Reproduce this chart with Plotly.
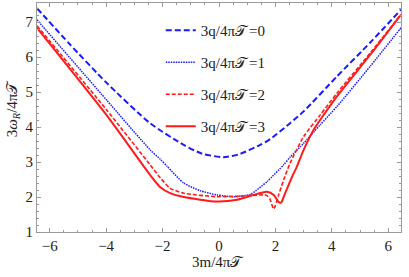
import plotly.graph_objects as go

# q = 0 (blue dashed)
x_q0 = [-6.45, -5.3, -4.0, -2.44, -1.25, -0.6, 0.16, 0.7, 1.46, 1.82, 2.53, 3.0, 4.18, 5.36, 6.45]
y_q0 = [7.40, 6.38, 5.28, 4.11, 3.49, 3.24, 3.14, 3.22, 3.49, 3.66, 4.12, 4.45, 5.45, 6.42, 7.36]

# q = 1 (blue dotted)
x_q1 = [-6.45, -3.99, -2.44, -2.08, -1.84, -1.25, -0.66, -0.07, 0.52, 1.11, 1.70, 2.29, 2.53, 3.0, 3.59, 4.18, 5.36, 6.45]
y_q1 = [7.07, 4.78, 3.35, 3.08, 2.88, 2.40, 2.18, 2.06, 2.01, 2.08, 2.44, 2.92, 3.15, 3.54, 4.07, 4.59, 5.74, 6.84]

# q = 2 (red dashed)
x_q2 = [-6.45, -3.99, -2.44, -2.08, -1.73, -1.25, -0.07, 0.88, 1.58, 1.70, 1.80, 1.94, 2.11, 2.29, 2.52, 3.0, 3.59, 4.18, 5.36, 6.45]
y_q2 = [6.90, 4.50, 2.92, 2.55, 2.25, 2.11, 2.01, 2.03, 2.06, 2.04, 1.95, 1.66, 2.05, 2.49, 2.97, 3.73, 4.35, 4.97, 6.12, 7.22]

# q = 3 (red solid)
x_q3 = [-6.45, -3.99, -2.44, -2.08, -1.73, -1.25, -0.07, 0.64, 1.35, 1.70, 1.94, 2.11, 2.20, 2.29, 2.47, 2.60, 2.76, 3.0, 3.35, 3.59, 4.18, 5.36, 6.45]
y_q3 = [6.84, 4.35, 2.63, 2.28, 2.11, 2.00, 1.87, 1.92, 2.09, 2.15, 2.06, 1.86, 1.84, 2.00, 2.35, 2.60, 2.87, 3.35, 3.92, 4.21, 4.88, 6.07, 7.22]

names = ["3q/4π𝒯\u2009=0", "3q/4π𝒯\u2009=1", "3q/4π𝒯\u2009=2", "3q/4π𝒯\u2009=3"]

x_ticks = [-6, -4, -2, 0, 2, 4, 6]
y_ticks = [1, 2, 3, 4, 5, 6, 7]

FONT = "Liberation Serif, Times New Roman, serif"
TXT = "#222"
GRAY = "#9a9a9a"

fig = go.Figure()
series = [
    (x_q0, y_q0, names[0], "#1a1aff", "6px,3px", 2.0),
    (x_q1, y_q1, names[1], "#1a1aff", "1.5px,1px", 1.5),
    (x_q2, y_q2, names[2], "#ff1a1a", "4px,2px", 1.6),
    (x_q3, y_q3, names[3], "#ff1a1a", "solid", 2.0),
]
for i, (xs, ys, nm, col, dash, w) in enumerate(series):
    fig.add_trace(go.Scatter(
        x=xs, y=ys, mode="lines", name=nm, legendgroup=f"g{i}",
        line=dict(color=col, dash=dash, width=w, shape="spline", smoothing=0.6),
    ))

axis_common = dict(
    showline=True, linecolor=GRAY, linewidth=1, mirror="allticks",
    ticks="inside", ticklen=4, tickcolor=GRAY, tickwidth=1,
    showgrid=False, zeroline=False, automargin=False,
    tickfont=dict(family=FONT, size=15, color=TXT),
)

fig.update_xaxes(
    range=[-6.45, 6.45], tickvals=x_ticks,
    ticktext=[str(v).replace("-", "−") for v in x_ticks],
    minor=dict(dtick=0.5, tick0=0, ticks="inside", ticklen=2, tickcolor=GRAY),
    **axis_common,
)
fig.update_yaxes(
    range=[1, 7.55], tickvals=y_ticks,
    minor=dict(dtick=0.2, tick0=0, ticks="inside", ticklen=2, tickcolor=GRAY),
    **axis_common,
)

fig.add_annotation(
    text="3m/4π𝒯", xref="paper", yref="paper", x=0.497, y=-0.131,
    xanchor="center", yanchor="middle", showarrow=False,
    font=dict(family=FONT, size=15, color=TXT),
)
fig.add_annotation(
    text="3<i>ω<sub>R</sub></i>/4π𝒯", xref="paper", yref="paper", x=-0.066, y=0.54,
    xanchor="center", yanchor="middle", showarrow=False, textangle=-90,
    font=dict(family=FONT, size=15, color=TXT),
)

fig.update_layout(
    width=409, height=277,
    margin=dict(l=37, r=8, t=3, b=45),
    plot_bgcolor="white", paper_bgcolor="white",
    showlegend=True,
    legend=dict(
        x=0.34, y=0.952, xanchor="left", yanchor="top",
        bgcolor="rgba(0,0,0,0)", font=dict(family=FONT, size=15, color=TXT),
        tracegroupgap=9.5, itemwidth=30,
    ),
)

fig.write_html(
    "out.html",
    config={"displayModeBar": False},
    post_script="document.body.style.margin='0';document.body.style.overflow='hidden';",
)
